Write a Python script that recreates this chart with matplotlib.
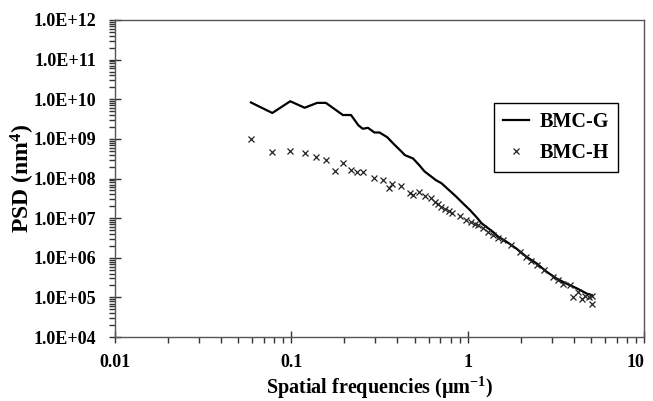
import numpy as np
import matplotlib.pyplot as plt
from matplotlib.ticker import LogLocator, FuncFormatter, NullFormatter

plt.rcParams['font.family'] = ['Liberation Serif', 'DejaVu Serif']
plt.rcParams['font.weight'] = 'bold'
plt.rcParams['mathtext.fontset'] = 'custom'
plt.rcParams['mathtext.rm'] = 'Liberation Serif:bold'
plt.rcParams['mathtext.bf'] = 'Liberation Serif:bold'
plt.rcParams['mathtext.it'] = 'Liberation Serif:bold'

# BMC-G (solid line)
freq_g = [0.059, 0.078, 0.0986, 0.119, 0.140, 0.157, 0.196, 0.218, 0.240, 0.254,
          0.272, 0.296, 0.316, 0.35, 0.38, 0.423, 0.44, 0.49, 0.53, 0.57, 0.625,
          0.66, 0.71, 0.78, 0.86, 0.946, 1.03, 1.12, 1.20, 1.31, 1.39, 1.49, 1.67,
          1.89, 2.16, 2.46, 2.81, 3.19, 3.65, 4.15, 4.73, 5.05]
psd_g = [8.3e9, 4.5e9, 8.9e9, 6.1e9, 8.1e9, 8.1e9, 4.0e9, 4.0e9, 2.2e9, 1.8e9,
         1.9e9, 1.45e9, 1.45e9, 1.1e9, 7.5e8, 4.7e8, 3.9e8, 3.2e8, 2.2e8, 1.5e8, 1.1e8,
         9.1e7, 7.6e7, 5.2e7, 3.5e7, 2.3e7, 1.6e7, 1.07e7, 7.4e6, 5.5e6, 4.5e6, 3.4e6, 2.5e6,
         1.7e6, 1.05e6, 7.2e5, 4.4e5, 3.0e5, 2.2e5, 1.7e5, 1.25e5, 1.14e5]

# BMC-H (x markers)
freq_h = [0.059, 0.078, 0.0986, 0.119, 0.138, 0.157, 0.177, 0.197, 0.218, 0.237,
          0.256, 0.296, 0.333, 0.356, 0.373, 0.416, 0.468, 0.489, 0.528, 0.57,
          0.622, 0.649, 0.678, 0.708, 0.74, 0.78, 0.818, 0.90, 0.98, 1.05, 1.10,
          1.15, 1.22, 1.31, 1.39, 1.49, 1.59, 1.75, 1.97, 2.15, 2.3, 2.46, 2.7,
          3.05, 3.25, 3.48, 3.8, 3.98, 4.2, 4.43, 4.6, 4.85, 5.05, 5.05]
psd_h = [9.9e8, 4.6e8, 5.0e8, 4.5e8, 3.5e8, 2.9e8, 1.57e8, 2.4e8, 1.6e8, 1.5e8,
         1.5e8, 1.05e8, 9.1e7, 5.6e7, 7.1e7, 6.4e7, 4.4e7, 3.8e7, 4.6e7, 3.6e7,
         3.2e7, 2.6e7, 2.3e7, 1.94e7, 1.66e7, 1.5e7, 1.32e7, 1.13e7, 8.9e6, 8.2e6, 7.3e6,
         6.6e6, 5.5e6, 4.5e6, 3.7e6, 3.2e6, 2.8e6, 2.1e6, 1.4e6, 1.05e6, 8.5e5, 6.5e5, 4.9e5,
         3.3e5, 2.8e5, 2.2e5, 2.0e5, 1.02e5, 1.4e5, 9.3e4, 1.1e5, 1.05e5, 6.8e4, 1.1e5]

x_ticks = [0.01, 0.1, 1, 10]
x_ticklabels = ['0.01', '0.1', '1', '10']

fig = plt.figure(figsize=(6.53, 4.01), dpi=100)
ax = fig.add_axes([115/653, 1-337/401, 529/653, 317/401])

ax.plot(freq_g, psd_g, 'k-', lw=1.6, label='BMC-G')
ax.plot(freq_h, psd_h, 'x', color='#222222', ms=5, mew=0.9, label='BMC-H')

ax.set_xscale('log')
ax.set_yscale('log')
ax.set_xlim(0.01, 10)
ax.set_ylim(1e4, 1e12)

ax.yaxis.set_major_locator(LogLocator(base=10, numticks=20))
ax.yaxis.set_minor_locator(LogLocator(base=10, subs=np.arange(2, 10), numticks=100))
ax.yaxis.set_minor_formatter(NullFormatter())
ax.yaxis.set_major_formatter(FuncFormatter(lambda v, p: f'{v:.1E}'))
ax.set_xticks(x_ticks)
ax.set_xticklabels(x_ticklabels)
ax.xaxis.set_minor_formatter(NullFormatter())

for s in ax.spines.values():
    s.set_color('#555555')
    s.set_linewidth(1.0)

ax.tick_params(which='major', direction='inout', length=9, width=1, color='#333333',
               labelsize=13)
ax.tick_params(axis='y', which='major', pad=9)
ax.tick_params(axis='x', which='major', pad=8)
ax.tick_params(which='minor', direction='out', length=4, width=1, color='#333333')
ax.get_xticklabels()[-1].set_horizontalalignment('right')

ax.set_xlabel('Spatial frequencies (\u03bcm$^{-1}$)', fontsize=14.5, fontweight='bold')
ax.xaxis.set_label_coords(0.5, (337-375)/317)
ax.set_ylabel('PSD (nm$^{4}$)', fontsize=17, fontweight='bold')
ax.yaxis.set_label_coords((37-115)/529, 0.5)

leg = ax.legend(loc='upper left', bbox_to_anchor=(494/653, 1-103/401),
                bbox_transform=fig.transFigure, fancybox=False, framealpha=1,
                edgecolor='black', fontsize=14.5, labelspacing=0.55, handlelength=1.3,
                handletextpad=0.5, borderpad=0.45, borderaxespad=0, markerscale=0.8)
leg.get_frame().set_linewidth(1.0)

fig.savefig('out.png', dpi=100)
